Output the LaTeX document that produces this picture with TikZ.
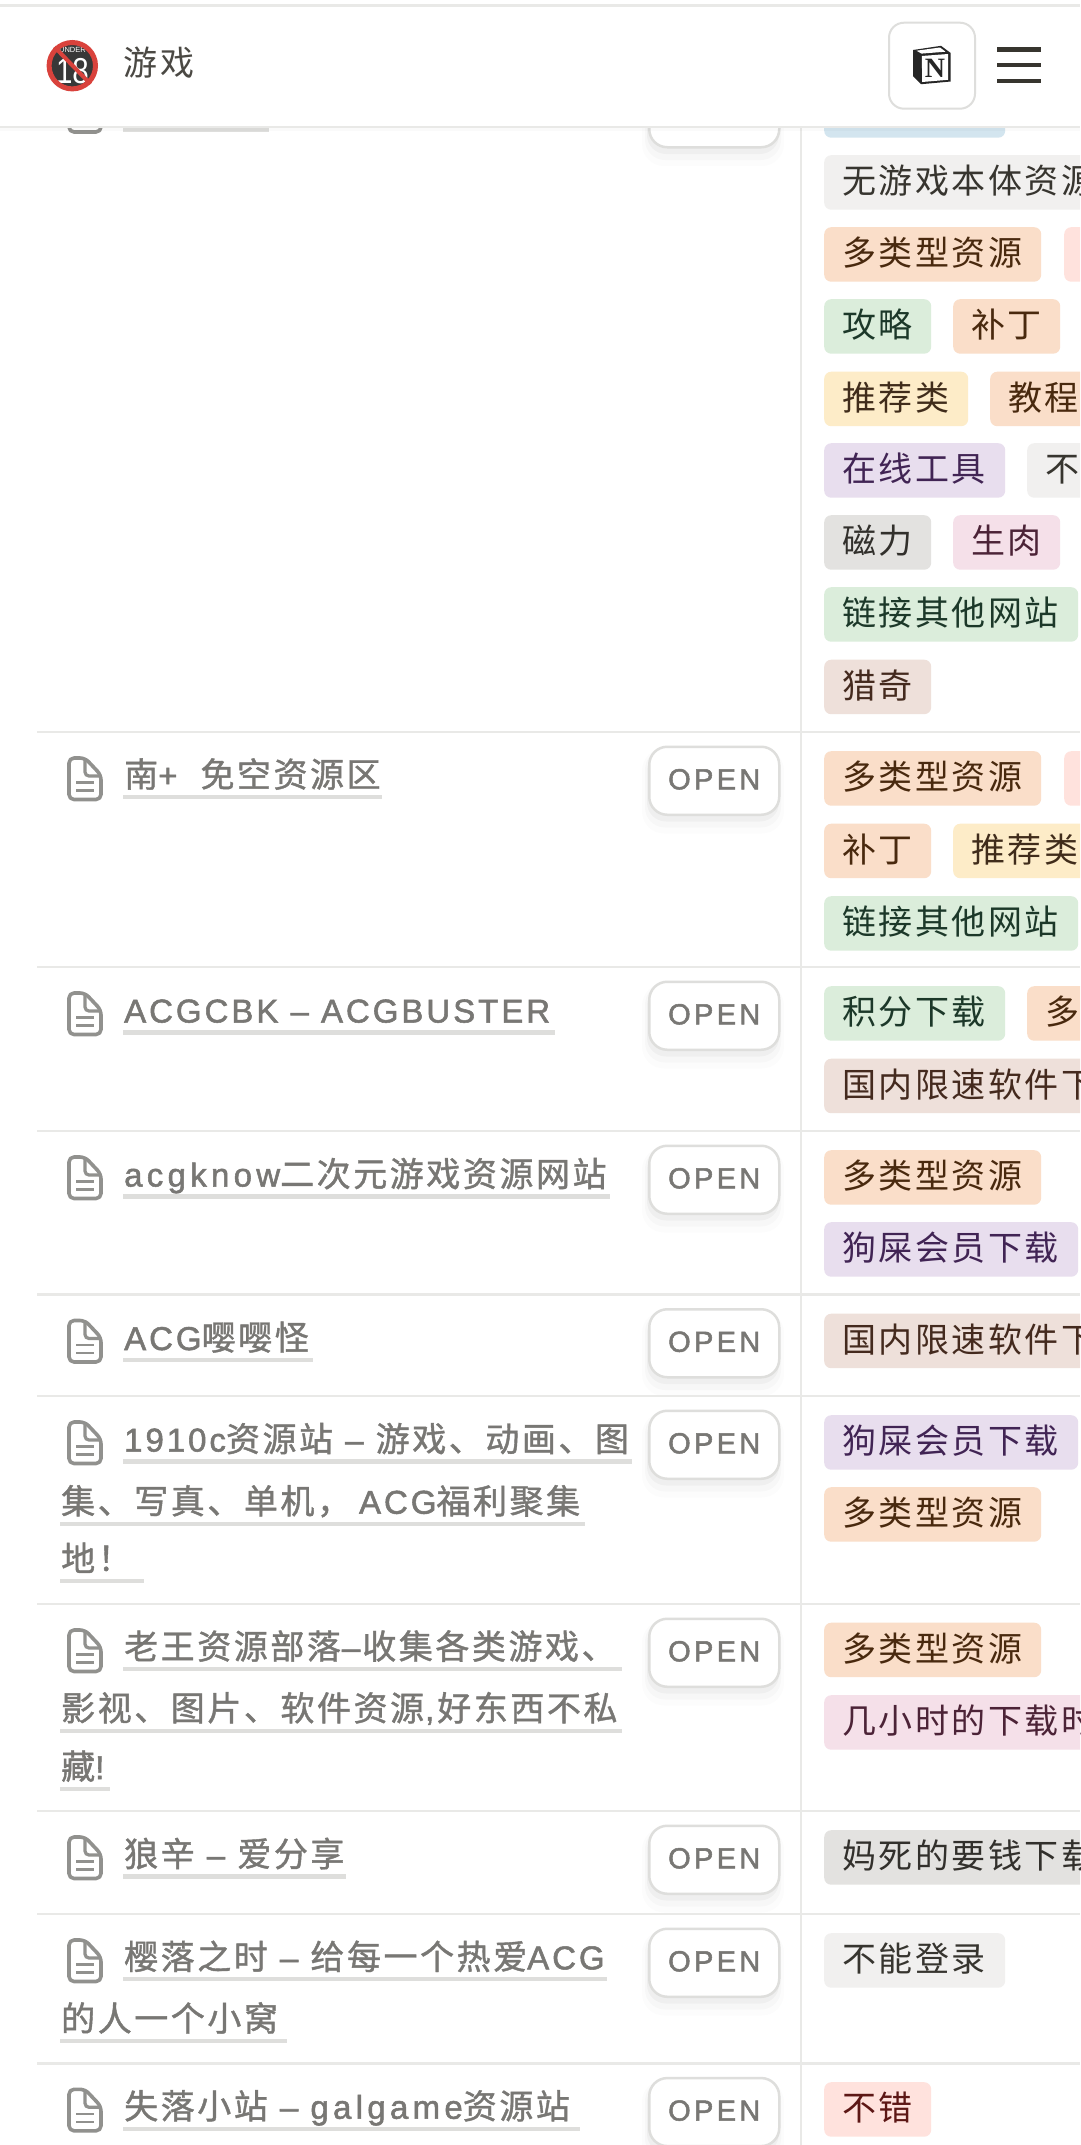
\documentclass[tikz,border=0pt]{standalone}
\usepackage{fontspec}
\newfontfamily\cjk[LetterSpace=7.5]{Noto Sans CJK SC}
\newfontfamily\cjkm[LetterSpace=7.5,FakeBold=1.2]{Noto Sans CJK SC}
\newfontfamily\latf[LetterSpace=9,FakeBold=1.6]{Liberation Sans}
\newfontfamily\latl[LetterSpace=13,FakeBold=1.6]{Liberation Sans}
\newfontfamily\openf[LetterSpace=11.5,FakeBold=1.8]{Liberation Sans}
\newfontfamily\plainf{Liberation Sans}
\newfontfamily\serifb{Liberation Serif}
\definecolor{cOrg}{HTML}{FADEC9}\definecolor{tOrg}{HTML}{49290E}
\definecolor{cGry}{HTML}{F1F0EF}\definecolor{tGry}{HTML}{37352F}
\definecolor{cGrn}{HTML}{DBEDDB}\definecolor{tGrn}{HTML}{1C3829}
\definecolor{cYel}{HTML}{FDECC8}\definecolor{tYel}{HTML}{402C1B}
\definecolor{cPur}{HTML}{E8DEEE}\definecolor{tPur}{HTML}{412454}
\definecolor{cPnk}{HTML}{F5E0E9}\definecolor{tPnk}{HTML}{4C2337}
\definecolor{cDrk}{HTML}{E3E2E0}\definecolor{tDrk}{HTML}{32302C}
\definecolor{cBrn}{HTML}{EEE0DA}\definecolor{tBrn}{HTML}{442A1E}
\definecolor{cRed}{HTML}{FFE2DD}\definecolor{tRed}{HTML}{5D1715}
\definecolor{cBlu}{HTML}{D3E5EF}\definecolor{tBlu}{HTML}{183347}
\definecolor{ttlGray}{HTML}{787774}
\definecolor{ulGray}{HTML}{DEDEDC}
\definecolor{lineGray}{HTML}{E9E9E7}
\definecolor{iconGray}{HTML}{91918E}
\definecolor{ink}{HTML}{37352F}
\definecolor{logoRed}{RGB}{217,66,60}
\tikzset{
  tg/.style={anchor=north west,inner sep=0pt,rounded corners=7pt,minimum height=54.5pt,
    text height=26pt,text depth=3pt,font=\fontsize{34}{36}\selectfont\cjk},
  torg/.style={tg,fill=cOrg,text=tOrg},
  tgry/.style={tg,fill=cGry,text=tGry},
  tgrn/.style={tg,fill=cGrn,text=tGrn},
  tyel/.style={tg,fill=cYel,text=tYel},
  tpur/.style={tg,fill=cPur,text=tPur},
  tpnk/.style={tg,fill=cPnk,text=tPnk},
  tdrk/.style={tg,fill=cDrk,text=tDrk},
  tbrn/.style={tg,fill=cBrn,text=tBrn},
  tred/.style={tg,fill=cRed,text=tRed},
  tblu/.style={tg,fill=cBlu,text=tBlu},
  rowline/.style={draw=lineGray,line width=2.5pt},
  ulline/.style={draw=ulGray,line width=4.2pt},
  ttl/.style={anchor=base west,inner sep=0pt,text=ttlGray,font=\fontsize{34}{36}\selectfont\cjkm},
  openbtn/.style={anchor=north west,draw=ulGray,line width=2.5pt,fill=white,rounded corners=18pt,
    minimum width=130pt,minimum height=68pt,inner sep=0pt,text=ttlGray,
    text height=17pt,text depth=0pt,
    font=\fontsize{29}{30}\selectfont\openf},
  docicon/.pic={
    \draw[iconGray,line width=3.6pt,rounded corners=5pt,line join=round]
      (18,2) -- (2,2) -- (2,43.5) -- (34,43.5) -- (34,19) -- cycle;
    \draw[iconGray,line width=3.2pt,rounded corners=4pt] (18,2) -- (18,20) -- (34,20);
    \draw[iconGray,line width=2.6pt] (9,26.5) -- (27,26.5);
    \draw[iconGray,line width=2.6pt] (9,34.5) -- (27,34.5);
  }
}
\newcommand\Tg[6]{\node[#5,minimum width=#4pt] (#1) at (#2,#3) {\makebox[#4pt][l]{\hspace{18pt}#6}};}
\newcommand\Lt[1]{{\fontsize{33}{36}\selectfont\latf #1}}
\newcommand\Ll[1]{{\fontsize{33}{36}\selectfont\latl #1}}
\newcommand\Ln[5]{%
  \draw[ulline] (#2,#4) -- (#3,#4);
  \node[ttl] (#1) at ({#2+1},{#4-10}) {#5};}
\newcommand\Shd[1]{%
  \fill[black,opacity=.012,rounded corners=22pt] (642,{#1+3}) rectangle (784,{#1+88});
  \fill[black,opacity=.02,rounded corners=20pt] (645,{#1+4}) rectangle (781,{#1+82});
  \fill[black,opacity=.03,rounded corners=19pt] (647,{#1+6}) rectangle (779,{#1+76});}
\newcommand\Btn[2]{%
  \Shd{#2}
  \node[openbtn] (#1) at (648,#2) {OPEN};}
\newcommand\Row[2]{%
  \draw[rowline] (37,#2) -- (1080,#2);
  \pic at (67,{#2+24}) {docicon};
  \Btn{btn#1}{#2+13.5}}
\begin{document}
\begin{tikzpicture}[x=1pt,y=-1pt]
\useasboundingbox (0,0) rectangle (1080,2145);
\clip (0,0) rectangle (1080,2145);
\fill[white] (0,0) rectangle (1080,2145);
% column rule
\draw[draw=lineGray,line width=2pt] (801,127) -- (801,2145);
% ---- first row (mostly scrolled away)
\pic at (67,88.5) {docicon};
\draw[ulline] (123,130) -- (269,130);
\Shd{78}
\node[openbtn] (btnz) at (648,78) {};
\Tg{a0}{824}{83}{181}{tblu}{}
\Tg{a1}{824}{155}{290}{tgry}{无游戏本体资源}
\Tg{a2}{824}{227}{217}{torg}{多类型资源}
\Tg{a3}{1064}{227}{107}{tred}{}
\Tg{a4}{824}{299}{107}{tgrn}{攻略}
\Tg{a5}{953}{299}{107}{torg}{补丁}
\Tg{a6}{824}{371.5}{144}{tyel}{推荐类}
\Tg{a7}{990}{371.5}{107}{torg}{教程}
\Tg{a8}{824}{443}{181}{tpur}{在线工具}
\Tg{a9}{1027}{443}{181}{tgry}{不}
\Tg{a10}{824}{515}{107}{tdrk}{磁力}
\Tg{a11}{953}{515}{107}{tpnk}{生肉}
\Tg{a12}{824}{587}{254}{tgrn}{链接其他网站}
\Tg{a13}{824}{659.5}{107}{tbrn}{猎奇}
% ---- 南+
\Row{b}{732}
\Ln{bt}{123}{382}{797}{南\Lt{+}\hspace{23pt}免空资源区}
\Tg{b1}{824}{751}{217}{torg}{多类型资源}
\Tg{b2}{1064}{751}{107}{tred}{}
\Tg{b3}{824}{823.5}{107}{torg}{补丁}
\Tg{b4}{953}{823.5}{144}{tyel}{推荐类}
\Tg{b5}{824}{896}{254}{tgrn}{链接其他网站}
% ---- ACGCBK
\Row{c}{967}
\Ln{ct}{123}{555}{1032.5}{\Lt{ACGCBK – ACGBUSTER}}
\Tg{c1}{824}{986}{181}{tgrn}{积分下载}
\Tg{c2}{1027}{986}{181}{torg}{多}
\Tg{c3}{824}{1058.5}{290}{tbrn}{国内限速软件下}
% ---- acgknow
\Row{d}{1131}
\Ln{dt}{123}{610}{1196.5}{\Ll{acgknow}二次元游戏资源网站}
\Tg{d1}{824}{1150}{217}{torg}{多类型资源}
\Tg{d2}{824}{1222}{254}{tpur}{狗屎会员下载}
% ---- ACG嘤嘤怪
\Row{e}{1294.5}
\Ln{et}{123}{313}{1360}{\Lt{ACG}嘤嘤怪}
\Tg{e1}{824}{1313.5}{290}{tbrn}{国内限速软件下}
% ---- 1910c
\Row{f}{1396}
\Ln{ft}{123}{632}{1461.5}{\Lt{1910c}资源站\Lt{ – }游戏、动画、图}
\Ln{ft2}{60}{585}{1523.7}{集、写真、单机，\hspace{8pt}\Lt{ACG}福利聚集}
\Ln{ft3}{60}{144}{1581}{地！}
\Tg{f1}{824}{1415}{254}{tpur}{狗屎会员下载}
\Tg{f2}{824}{1487}{217}{torg}{多类型资源}
% ---- 老王
\Row{g}{1604}
\Ln{gt}{123}{622}{1669}{老王资源部落\hspace{1pt}\Lt{–}\hspace{2pt}收集各类游戏、}
\Ln{gt2}{60}{622}{1730.7}{影视、图片、软件资源\hspace{1pt}\Lt{,}\hspace{3pt}好东西不私}
\Ln{gt3}{60}{110}{1789}{藏\Lt{!}}
\Tg{g1}{824}{1622.5}{217}{torg}{多类型资源}
\Tg{g2}{824}{1695}{290}{tpnk}{几小时的下载时}
% ---- 狼辛
\Row{h}{1811}
\Ln{ht}{123}{346}{1876.5}{狼辛\Lt{ – }爱分享}
\Tg{h1}{824}{1830}{290}{tdrk}{妈死的要钱下载}
% ---- 樱落
\Row{i}{1914}
\Ln{it}{123}{607}{1979.3}{樱落之时\Lt{ – }给每一个热爱\Lt{ACG}}
\Ln{it2}{60}{287}{2041}{的人一个小窝}
\Tg{i1}{824}{1933}{181}{tgry}{不能登录}
% ---- 失落
\Row{j}{2063.3}
\Ln{jt}{123}{580}{2128.7}{失落小站\Lt{ – }\Ll{galgame}资源站}
\Tg{j1}{824}{2082}{107}{tred}{不错}
% ---- header
\fill[white] (0,0) rectangle (1080,127);
\fill[black,opacity=.02] (0,127) rectangle (1080,131);
\draw[draw=lineGray,line width=3pt] (0,5.5) -- (1080,5.5);
\draw[draw=lineGray,line width=2.5pt] (0,127) -- (1080,127);
% logo
\fill[black!78] (72.3,65.7) circle (24);
\node[inner sep=0pt,text=white,font=\fontsize{7.5}{8}\selectfont\plainf] (under) at (72.5,49.5) {UNDER};
\node[inner sep=0pt,text=white,xscale=.82,font=\fontsize{36}{36}\selectfont\plainf] (eighteen) at (72.5,71) {18};
\draw[draw=logoRed,line width=4pt] (54.5,47) -- (90.5,84);
\draw[draw=logoRed,line width=5pt] (72.3,65.7) circle (23.2);
\node[inner sep=0pt,anchor=base west,text=ink!90,font=\fontsize{34}{36}\selectfont\cjk] (title) at (123.5,75) {游戏};
% notion button
\node[anchor=north west,draw=ulGray,line width=2pt,fill=white,rounded corners=15pt,
  minimum width=86pt,minimum height=86pt,inner sep=0pt] (notionbtn) at (888,21.7) {};
\fill[black!85] (913,50) -- (941,45.8) -- (950.7,53) -- (950.7,81.5) -- (921,84.2) -- (913,76) -- cycle;
\fill[white] (921.8,56) -- (948,54) -- (948,79.8) -- (922.2,82) -- cycle;
\fill[white] (916.5,50.7) -- (940,47.5) -- (945.5,51.7) -- (921.5,53.6) -- cycle;
\node[inner sep=0pt,text=black!85,font=\fontsize{28}{28}\selectfont\serifb\bfseries] (notionN) at (935,68) {N};
% hamburger
\fill[ink] (997,47.3) rectangle (1041,51.7);
\fill[ink] (997,62.8) rectangle (1041,67.2);
\fill[ink] (997,78.5) rectangle (1041,82.9);
\end{tikzpicture}
\end{document}
